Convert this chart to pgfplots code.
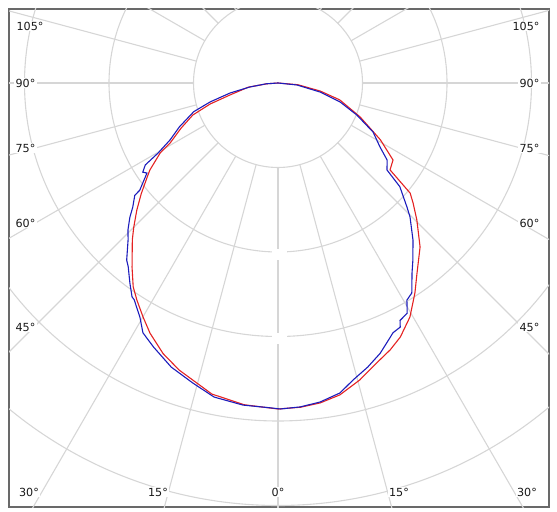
\documentclass[border=0pt]{standalone}
\usepackage{pgfplots}
\usepackage{pgfplotstable}
\pgfplotsset{compat=1.18}
\usepackage{fontspec}
\setmainfont{DejaVu Sans}
\definecolor{gridc}{RGB}{214,214,214}
\definecolor{framec}{RGB}{105,105,105}
\definecolor{redc}{RGB}{228,34,34}
\definecolor{bluec}{RGB}{28,28,188}
\definecolor{txtc}{RGB}{25,25,25}
\tikzset{lbl/.style={fill=white, inner sep=1.2bp, text=txtc, font=\fontsize{11.2}{13}\selectfont}}

% gamma (deg, negative = left half), intensity (grid step = 84.5)
\pgfplotstableread{
g I
-90 0
-86 12
-81.9 28.5
-78.2 49
-74.4 70.5
-71.2 89
-66 108
-62.2 122
-59.7 139
-58.3 156
-56.6 162
-55.5 159
-52.2 175
-51.9 182
-49.5 191
-47.8 200
-45.6 210
-43.7 217
-40.5 233
-39.2 237
-36.5 249
-34.3 259
-33.6 260
-30.5 272
-28.4 284
-25.2 292
-20.6 303.5
-15.8 312
-11.5 320.5
-6.2 324
-1.2 325
0.4 326
3.9 324.7
7.5 321.8
11.3 316.1
14.2 306.3
17.5 298
20.7 289
23.8 278
24.7 275
26.6 273
27.2 267
29.3 264
30.7 252.5
32.5 249
35.2 232.5
37.3 222.6
40.7 207
44.6 188
46.1 179
49.6 160
51.4 139.5
54.8 133.5
57.9 120.4
62.7 107
67.9 85
73 65
77.9 43
84 19
90 0
}\bluetab

\pgfplotstableread{
g I
-90 0
-86 11
-82 30
-76 49.5
-72.8 71
-69.4 91
-65 107
-60.9 123.5
-59.3 137
-55.8 155
-54.3 161
-51 176
-48 190
-45 204
-42.9 214
-38.4 235
-35.4 250
-33 259
-30 270
-27.1 281
-23 294
-19 303.6
-12 318
-6 323.5
0 326
4 325
7.5 322.7
11.2 318
15.4 308
20.2 295
22.8 289.5
25.7 282
29.4 268.7
33.1 250.7
36.2 235.4
40.9 217
45.4 195
48.4 180.6
50.2 172
52.2 141.8
56.2 138.4
61 117
67.5 89
74.7 64
79.2 43
85 20
90 0
}\redtab

\begin{document}
\begin{tikzpicture}
\begin{axis}[
  scale only axis, width=540bp, height=498bp,
  xmin=-269, xmax=271, ymin=-424, ymax=74,
  xtick=\empty, ytick=\empty,
  axis line style={framec, line width=1.3bp},
  clip=true,
]
% grid circles
\pgfplotsinvokeforeach{1,2,3,4,5,6}{
  \draw[gridc, line width=1.1bp] (axis cs:0,0) circle[radius=84.5*#1];
}
% radial lines every 15 degrees
\pgfplotsinvokeforeach{0,15,30,45,60,75,90,105,120,135,150,165,180,195,210,225,240,255,270,285,300,315,330,345}{
  \draw[gridc, line width=1.1bp] (axis cs:{84.5*cos(#1)},{84.5*sin(#1)}) -- (axis cs:{700*cos(#1)},{700*sin(#1)});
}
% small blank gaps where the empty scale labels sit
\fill[white] (axis cs:-6,-166) rectangle (axis cs:9,-177);
\fill[white] (axis cs:-6,-250) rectangle (axis cs:9,-261);
\addplot[redc, line width=1.1bp] table[x expr={\thisrow{I}*sin(\thisrow{g})}, y expr={-\thisrow{I}*cos(\thisrow{g})}] \redtab;
\addplot[bluec, line width=1.1bp] table[x expr={\thisrow{I}*sin(\thisrow{g})}, y expr={-\thisrow{I}*cos(\thisrow{g})}] \bluetab;
% angle labels
\node[lbl] at (axis cs:-248,57) {105°};
\node[lbl] at (axis cs:-252.5,0) {90°};
\node[lbl] at (axis cs:-252.5,-65) {75°};
\node[lbl] at (axis cs:-252.5,-140) {60°};
\node[lbl] at (axis cs:-252.5,-244) {45°};
\node[lbl] at (axis cs:248,57) {105°};
\node[lbl] at (axis cs:251.5,0) {90°};
\node[lbl] at (axis cs:251.5,-65) {75°};
\node[lbl] at (axis cs:251.5,-140) {60°};
\node[lbl] at (axis cs:251.5,-244) {45°};
\node[lbl] at (axis cs:-249,-409) {30°};
\node[lbl] at (axis cs:-120,-409) {15°};
\node[lbl] at (axis cs:0,-409) {0°};
\node[lbl] at (axis cs:121,-409) {15°};
\node[lbl] at (axis cs:249,-409) {30°};
\end{axis}
\pgfresetboundingbox
\path ([shift={(-9bp,-4bp)}]current axis.south west) rectangle ([shift={(8bp,9bp)}]current axis.north east);
\end{tikzpicture}
\end{document}
